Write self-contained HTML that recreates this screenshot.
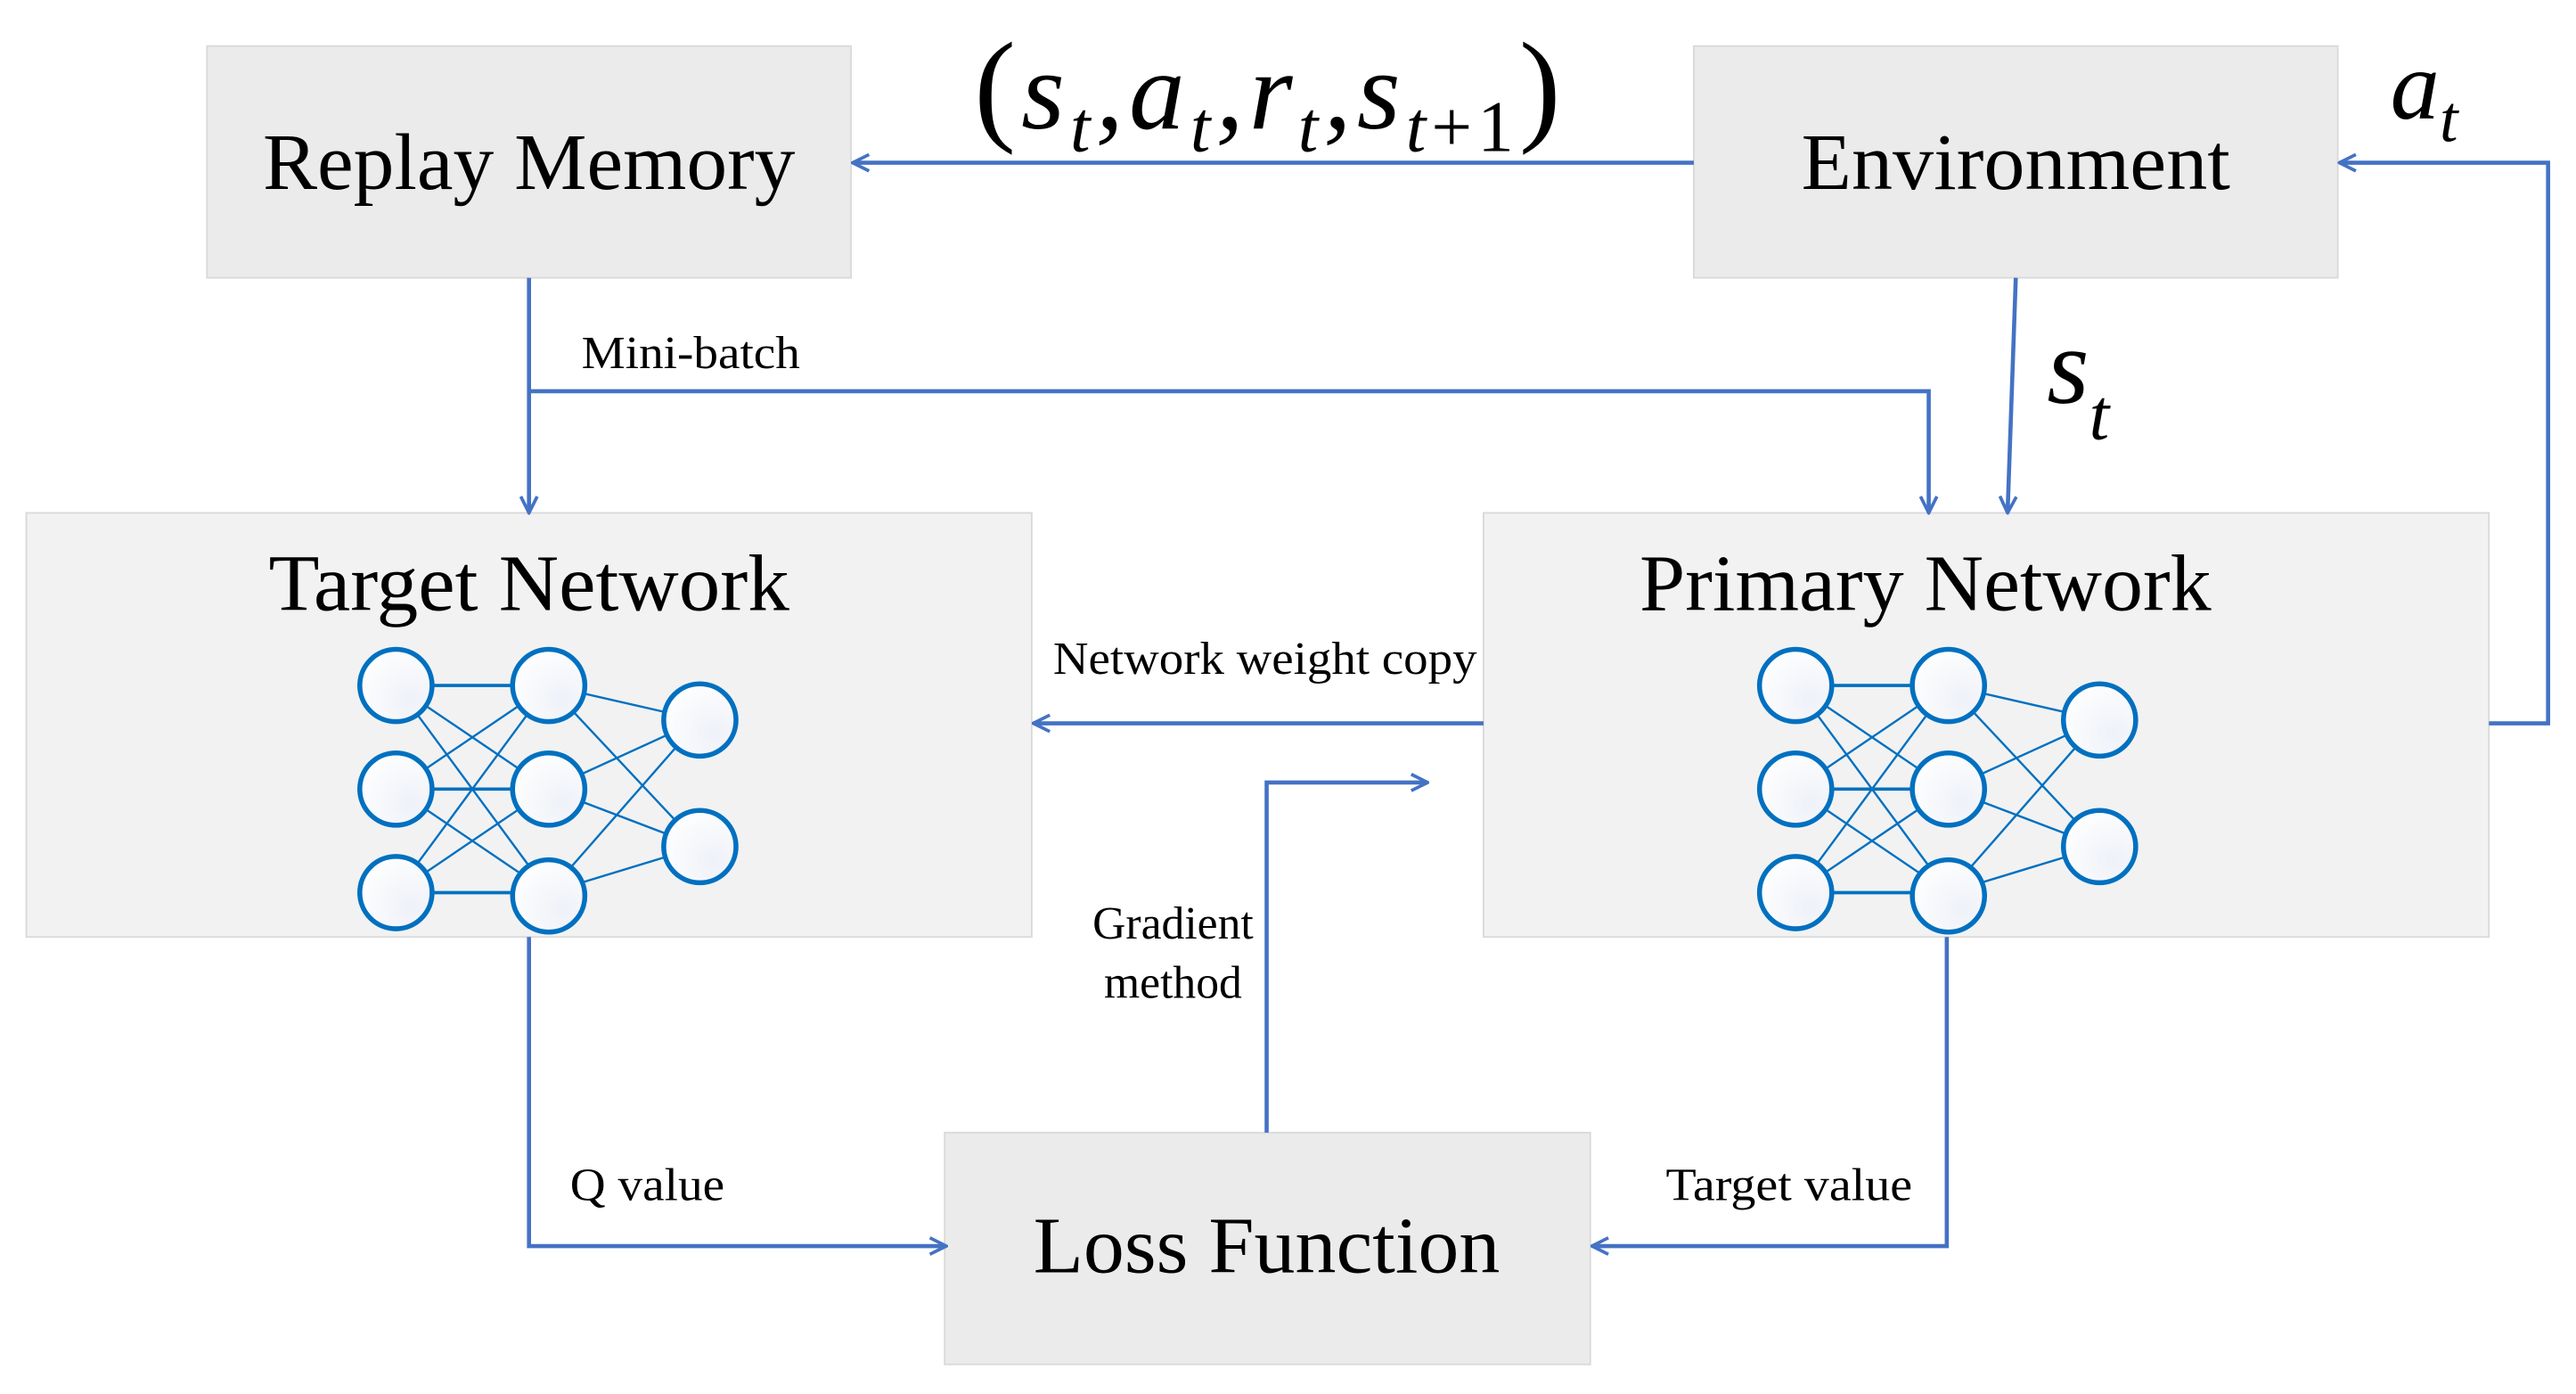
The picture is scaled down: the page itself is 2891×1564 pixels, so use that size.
<!DOCTYPE html>
<html><head><meta charset="utf-8"><style>
html,body{margin:0;padding:0;background:#fff;}
svg{display:block;}
text{font-family:"Liberation Serif",serif;fill:#000;}
</style></head><body>
<svg width="2891" height="1564" viewBox="0 0 1568 848" preserveAspectRatio="none" xmlns="http://www.w3.org/2000/svg">
<defs>
<marker id="ar" viewBox="0 0 12 12" refX="11" refY="6" markerWidth="12" markerHeight="12" markerUnits="userSpaceOnUse" orient="auto">
<path d="M1,1 L11,6 L1,11" fill="none" stroke="#4472C4" stroke-width="2"/>
</marker>
<radialGradient id="cg" cx="0.7" cy="0.7" r="0.8"><stop offset="0" stop-color="#eef1f8"/><stop offset="1" stop-color="#ffffff"/></radialGradient>
</defs>
<rect x="126" y="28" width="392" height="141" fill="#ebebeb" stroke="#d9d9d9" stroke-width="1"/>
<rect x="1031" y="28" width="392" height="141" fill="#ebebeb" stroke="#d9d9d9" stroke-width="1"/>
<rect x="16" y="312" width="612" height="258" fill="#f2f2f2" stroke="#d9d9d9" stroke-width="1"/>
<rect x="903" y="312" width="612" height="258" fill="#f2f2f2" stroke="#d9d9d9" stroke-width="1"/>
<rect x="575" y="689" width="393" height="141" fill="#ebebeb" stroke="#d9d9d9" stroke-width="1"/>
<text x="322" y="115" font-size="49" text-anchor="middle" textLength="324" lengthAdjust="spacingAndGlyphs">Replay Memory</text>
<text x="1227" y="115" font-size="49" text-anchor="middle" textLength="261" lengthAdjust="spacingAndGlyphs">Environment</text>
<text x="322" y="371" font-size="49" text-anchor="middle" textLength="317" lengthAdjust="spacingAndGlyphs">Target Network</text>
<text x="1172" y="371" font-size="49" text-anchor="middle" textLength="348" lengthAdjust="spacingAndGlyphs">Primary Network</text>
<text x="771" y="774" font-size="49" text-anchor="middle" textLength="284" lengthAdjust="spacingAndGlyphs">Loss Function</text>
<g fill="none" stroke="#4472C4" stroke-width="2.5" marker-end="url(#ar)">
<path d="M1031,99 L519,99"/>
<path d="M322,169 L322,312"/>
<path d="M322,238 L1174,238 L1174,312"/>
<path d="M1227,169 L1222,312"/>
<path d="M1515,440 L1551,440 L1551,99 L1424,99"/>
<path d="M903,440 L629,440"/>
<path d="M771,689 L771,476 L869,476"/>
<path d="M322,570 L322,758 L576,758"/>
<path d="M1185,570 L1185,758 L969,758"/>
</g>
<text x="354" y="224" font-size="28" textLength="133" lengthAdjust="spacingAndGlyphs">Mini-batch</text>
<text x="641" y="410" font-size="28" textLength="258" lengthAdjust="spacingAndGlyphs">Network weight copy</text>
<text x="714" y="571" font-size="28" text-anchor="middle">Gradient</text>
<text x="714" y="607" font-size="28" text-anchor="middle">method</text>
<text x="347" y="730" font-size="28" textLength="94" lengthAdjust="spacingAndGlyphs">Q value</text>
<text x="1014" y="730" font-size="28" textLength="150" lengthAdjust="spacingAndGlyphs">Target value</text>
<text x="593" y="78" font-size="68" font-style="italic" textLength="357" lengthAdjust="spacing"><tspan font-style="normal" font-size="76">(</tspan>s<tspan font-size="44" dy="14">t</tspan><tspan dy="-14">,</tspan>a<tspan font-size="44" dy="14">t</tspan><tspan dy="-14">,</tspan>r<tspan font-size="44" dy="14">t</tspan><tspan dy="-14">,</tspan>s<tspan font-size="44" dy="14">t</tspan><tspan font-size="44" font-style="normal">+1</tspan><tspan dy="-14" font-style="normal" font-size="76">)</tspan></text>
<text x="1246" y="245" font-size="66" font-style="italic">s<tspan font-size="44" dy="22">t</tspan></text>
<text x="1455" y="72" font-size="60" font-style="italic">a<tspan font-size="40" dy="14">t</tspan></text>
<g id="net">
<g stroke="#0070C0" stroke-width="1.3">
<line x1="241" y1="417" x2="334" y2="417" stroke-width="2"/><line x1="241" y1="417" x2="334" y2="480"/><line x1="241" y1="417" x2="334" y2="543"/>
<line x1="241" y1="480" x2="334" y2="417"/><line x1="241" y1="480" x2="334" y2="480" stroke-width="2"/><line x1="241" y1="480" x2="334" y2="543"/>
<line x1="241" y1="543" x2="334" y2="417"/><line x1="241" y1="543" x2="334" y2="480"/><line x1="241" y1="543" x2="334" y2="543" stroke-width="2"/>
<line x1="334" y1="417" x2="426" y2="438"/><line x1="334" y1="417" x2="426" y2="515"/>
<line x1="334" y1="480" x2="426" y2="438"/><line x1="334" y1="480" x2="426" y2="515"/>
<line x1="334" y1="543" x2="426" y2="438"/><line x1="334" y1="543" x2="426" y2="515"/>
</g>
<g fill="url(#cg)" stroke="#0070C0" stroke-width="3">
<ellipse cx="241" cy="417" rx="22" ry="22"/><ellipse cx="241" cy="480" rx="22" ry="22"/><ellipse cx="241" cy="543" rx="22" ry="22"/>
<ellipse cx="334" cy="417" rx="22" ry="22"/><ellipse cx="334" cy="480" rx="22" ry="22"/><ellipse cx="334" cy="545" rx="22" ry="22"/>
<ellipse cx="426" cy="438" rx="22" ry="22"/><ellipse cx="426" cy="515" rx="22" ry="22"/>
</g>
</g>
<use href="#net" x="852" y="0"/>
</svg>
</body></html>
